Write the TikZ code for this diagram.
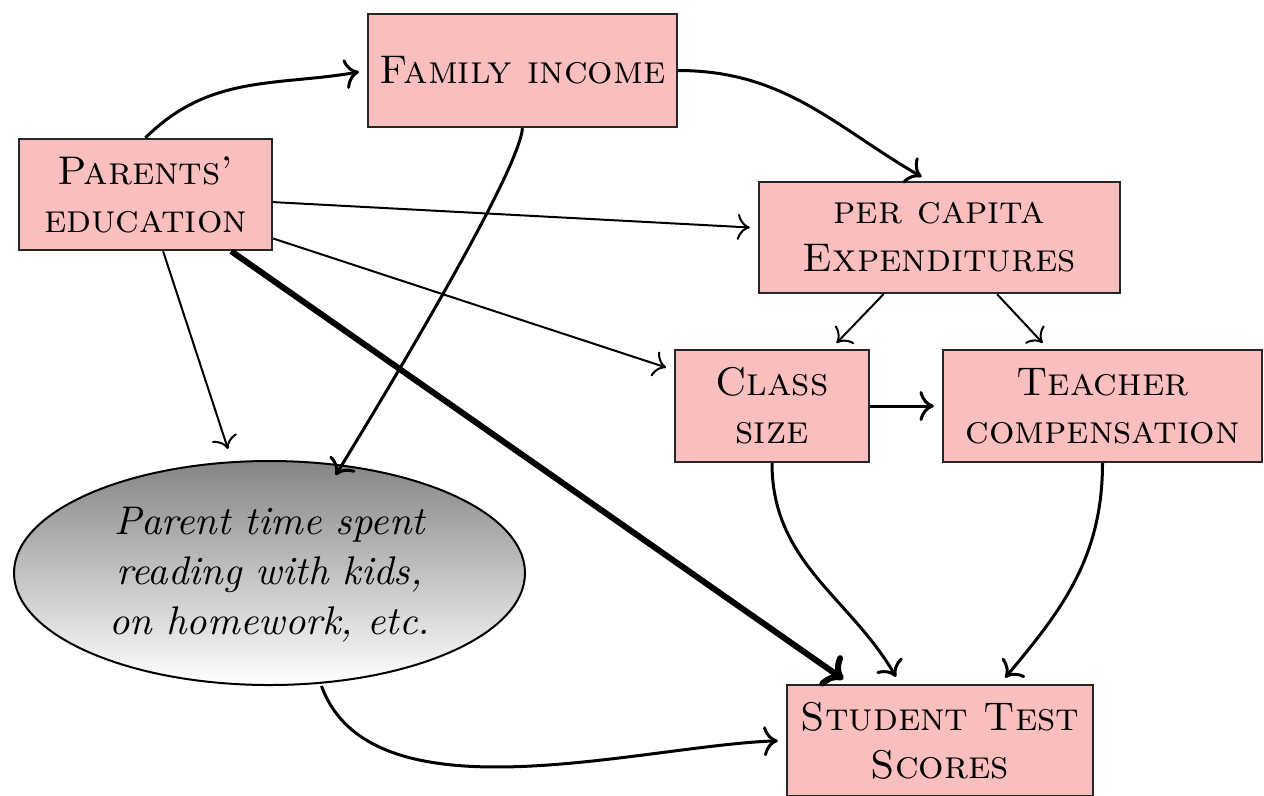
\documentclass[tikz,border=0pt]{standalone}
\usetikzlibrary{shapes.geometric,arrows.meta}
\definecolor{boxpink}{RGB}{249,190,190}
\begin{document}
\begin{tikzpicture}[x=0.25pt,y=-0.25pt,
  box/.style={draw=black!85, line width=0.6pt, fill=boxpink, align=center, inner sep=0pt},
  con/.style={line width=0.75pt, -{To[scale=1.1]}, shorten >=2pt},
  thinc/.style={line width=0.5pt, -{To[scale=1.15]}, shorten >=2pt},
  thickc/.style={line width=1.5pt, -{To[scale=0.9]}, shorten >=2pt}]
\useasboundingbox (0,0) rectangle (1264,795);
\node[box, minimum width=77.25pt, minimum height=28.25pt] (fam) at (522.5,70.5) {\textsc{Family income}};
\node[box, minimum width=63.25pt, minimum height=27.75pt] (par) at (145.5,194.5) {\textsc{Parents'}\\\textsc{education}};
\node[box, minimum width=90.25pt, minimum height=27.75pt] (exp) at (939.5,237.5) {\textsc{per capita}\\\textsc{Expenditures}};
\node[box, minimum width=48.5pt, minimum height=28pt] (cls) at (772,406) {\textsc{Class}\\\textsc{size}};
\node[box, minimum width=79.75pt, minimum height=28pt] (tch) at (1102.5,406) {\textsc{Teacher}\\\textsc{compensation}};
\node[box, minimum width=76.5pt, minimum height=27.75pt] (stu) at (940,740.5) {\textsc{Student Test}\\\textsc{Scores}};
\node[ellipse, draw=black, line width=0.5pt, top color=black!48, bottom color=white, minimum width=127.75pt, minimum height=56pt, inner sep=0pt] (ell) at (269.5,573) {};
\node[align=center, font=\itshape] (elltxt) at ([yshift=-0.5pt]ell.center) {Parent time spent\\[0.5pt]reading with kids,\\[0.5pt]on homework, etc.};
% connectors
\draw[con] (par.north) to[out=45,in=190] (fam.west);
\draw[con] (fam.east) to[out=0,in=150] ([xshift=-2.75pt]exp.north);
\draw[thinc] ([yshift=-1.9pt]par.east) -- ([yshift=2.4pt]exp.west);
\draw[thinc] ([yshift=-11pt]par.east) -- ([yshift=9pt]cls.west);
\draw[thinc] ([xshift=4.4pt]par.south) -- ([shift={(-9.75pt,0.85pt)}]ell.north);
\draw[thickc] ([xshift=-10.5pt]par.south east) -- ([xshift=16pt]stu.north west);
\draw[con] (fam.south) .. controls +(-1pt,-10.75pt) and +(17.25pt,28.25pt) .. ([shift={(15.5pt,-5.5pt)}]ell.north);
\draw[thinc] ([xshift=-14pt]exp.south) -- ([xshift=14.75pt]cls.north);
\draw[thinc] ([xshift=14.4pt]exp.south) -- ([xshift=-13.6pt]tch.north);
\draw[con] (cls.east) -- (tch.west);
\draw[con] (cls.south) to[out=-90,in=120] ([xshift=-10pt]stu.north);
\draw[con] (tch.south) to[out=-90,in=50] ([xshift=15pt]stu.north);
\draw[con] ([xshift=13pt]ell.south) to[out=-70,in=182,looseness=0.8] (stu.west);
\end{tikzpicture}
\end{document}
